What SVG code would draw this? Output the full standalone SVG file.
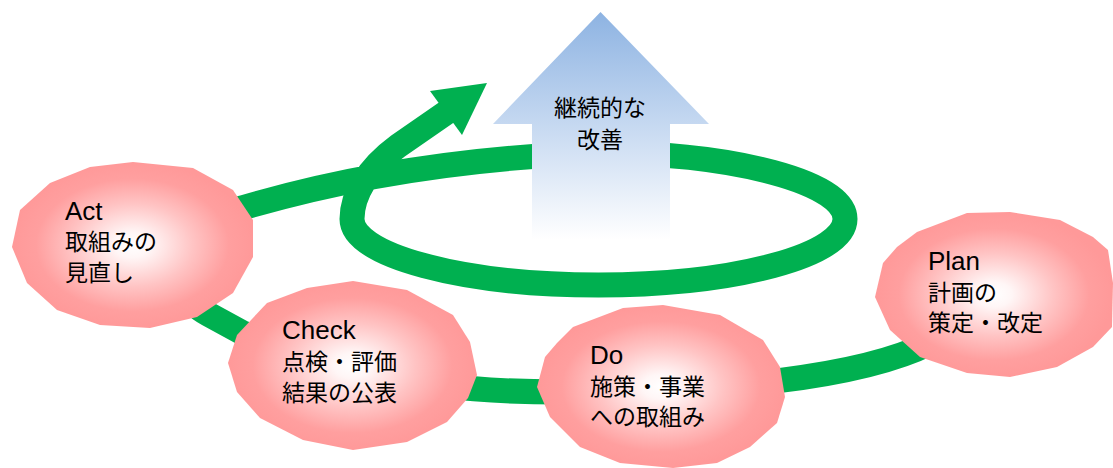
<svg xmlns="http://www.w3.org/2000/svg" width="1113" height="468" viewBox="0 0 1113 468">
  <defs>
    <radialGradient id="pink" cx="50%" cy="50%" r="50%">
      <stop offset="0" stop-color="#FFFFFF"/>
      <stop offset="0.15" stop-color="#FFF6F6"/>
      <stop offset="0.5" stop-color="#FFC4C4"/>
      <stop offset="0.8" stop-color="#FF9F9F"/>
      <stop offset="1" stop-color="#FF9999"/>
    </radialGradient>
    <linearGradient id="blue" x1="0" y1="12" x2="0" y2="240" gradientUnits="userSpaceOnUse">
      <stop offset="0" stop-color="#8DB3E2"/>
      <stop offset="0.5" stop-color="#C6D9F1"/>
      <stop offset="1" stop-color="#FFFFFF"/>
    </linearGradient>
    <style>
      .band { fill: none; stroke: #00B050; stroke-width: 25; stroke-linejoin: round; }
      .head { fill: #00B050; }
      .blob { fill: url(#pink); }
      .lbl { font-family: "Liberation Sans", "Noto Sans CJK JP", sans-serif; fill: #000000; }
      .en { font-size: 26px; }
      .jp { font-size: 23px; }
    </style>
  </defs>

  <g id="connectors">
    <path class="band" d="M 930,343 C 860,378 720,392 560,392 C 440,392 330,375 241,332 L 208,314 C 160,288 170,225 242,208 C 330,182 450,158 598.5,153 A 246.5 66 0 0 1 845,219 A 246.5 66 0 0 1 598.5,285 A 246.5 66 0 0 1 352,219 C 352,195 368,168 398,146 L 450,110"/>
    <polygon class="head" points="430,91 462,135 487,83"/>
  </g>

  <g id="improvement">
    <polygon points="600.5,12 709,124 670,124 670,240 532,240 532,124 493,124" fill="url(#blue)"/>
    <text class="lbl jp" x="600" y="116" text-anchor="middle">継続的な</text>
    <text class="lbl jp" x="600" y="148" text-anchor="middle">改善</text>
  </g>

  <g id="act">
    <polygon class="blob" points="133,162 193,168 233,190 253,220 253,257 233,293 197,317 150,328 100,325 57,310 27,283 12,247 20,210 50,183 90,167"/>
    <text class="lbl en" x="65" y="220">Act</text>
    <text class="lbl jp" x="65" y="250">取組みの</text>
    <text class="lbl jp" x="65" y="281">見直し</text>
  </g>

  <g id="check">
    <polygon class="blob" points="267,303 307,288 353,281 407,290 453,315 470,342 477,375 468,398 447,422 407,442 353,450 303,440 260,418 237,392 228,363 237,335"/>
    <text class="lbl en" x="282" y="339">Check</text>
    <text class="lbl jp" x="282" y="370">点検・評価</text>
    <text class="lbl jp" x="282" y="401">結果の公表</text>
  </g>

  <g id="do">
    <polygon class="blob" points="573,327 623,308 663,305 720,315 763,340 780,367 785,397 777,423 750,447 717,463 673,468 620,463 580,447 550,417 537,387 545,357 557,343"/>
    <text class="lbl en" x="590" y="364">Do</text>
    <text class="lbl jp" x="590" y="395">施策・事業</text>
    <text class="lbl jp" x="590" y="425">への取組み</text>
  </g>

  <g id="plan">
    <polygon class="blob" points="917,232 967,213 1010,212 1060,220 1093,237 1108,250 1113,283 1112,327 1093,347 1057,367 1010,377 967,373 920,357 890,330 875,297 883,263 897,247"/>
    <text class="lbl en" x="928" y="270">Plan</text>
    <text class="lbl jp" x="928" y="301">計画の</text>
    <text class="lbl jp" x="928" y="331">策定・改定</text>
  </g>
</svg>
